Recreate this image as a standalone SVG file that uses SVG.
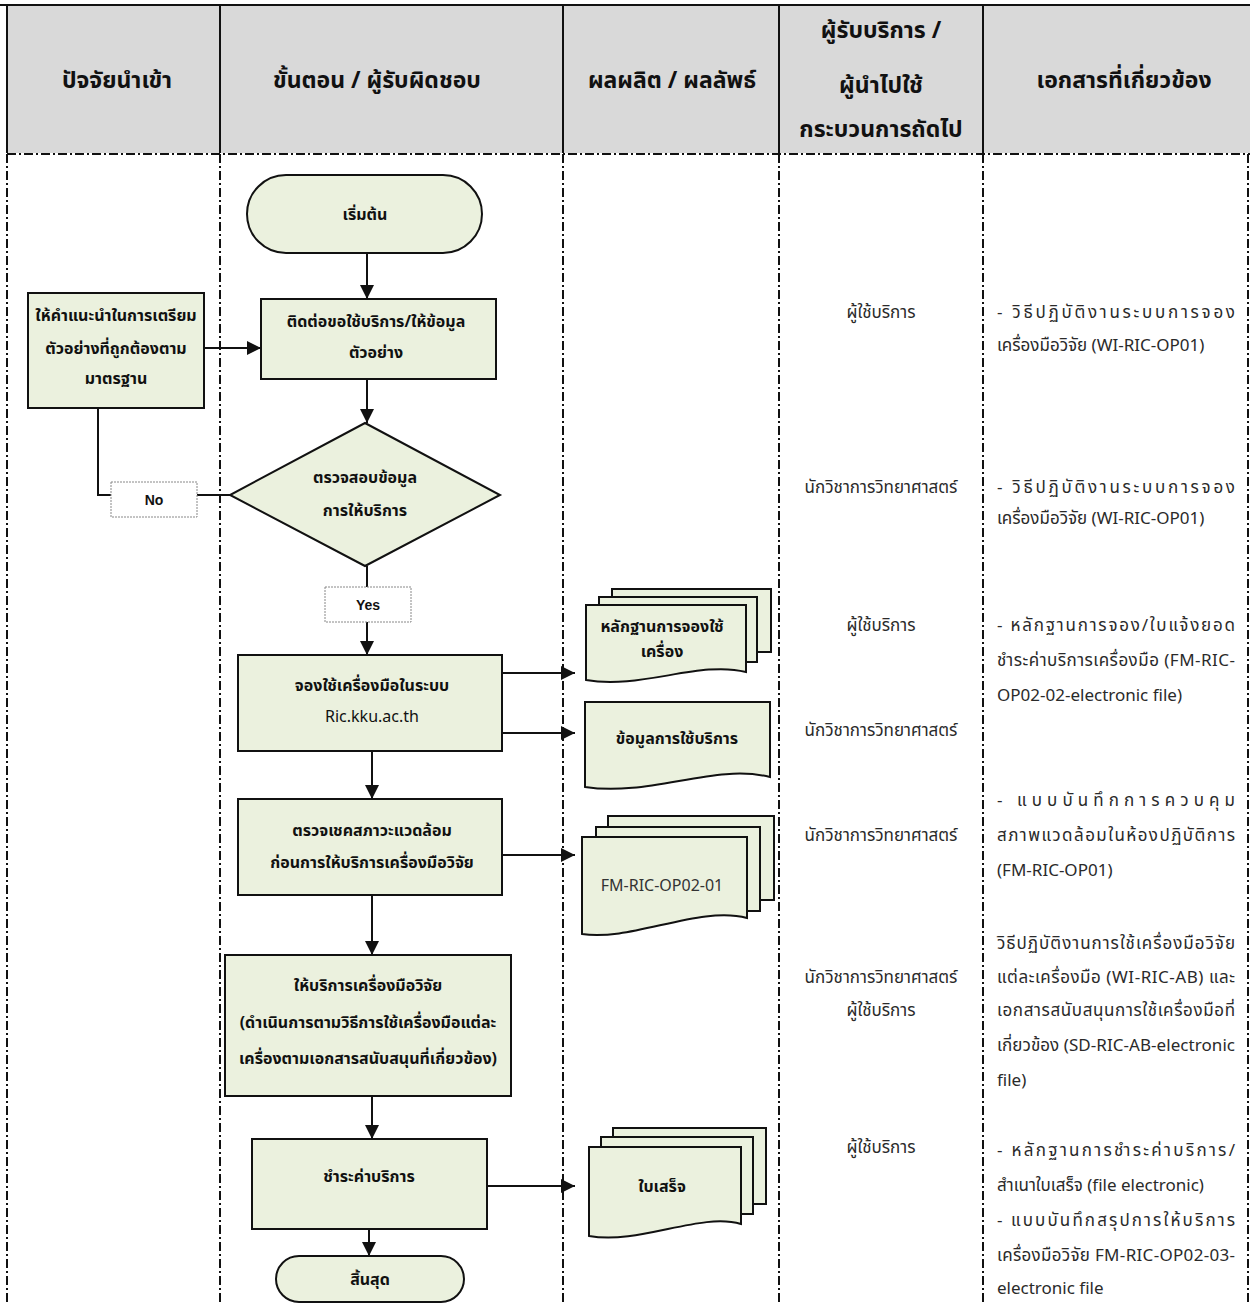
<svg xmlns="http://www.w3.org/2000/svg" width="1250" height="1304" viewBox="0 0 1250 1304">
<defs>
<style>
text{font-family:"Noto Sans Thai",Tahoma,"Leelawadee UI","Noto Sans","DejaVu Sans",sans-serif;fill:#111}
.hd{font-size:23px;font-weight:bold;text-anchor:middle}
.nt{font-size:16px;font-weight:bold;text-anchor:middle}
.nr{font-size:16px;text-anchor:middle}
.c4{font-size:17px;text-anchor:middle;fill:#2a2a2a}
.c5{font-size:17px;fill:#2a2a2a}
.lab{font-family:"Liberation Sans",Arial,sans-serif;font-size:14px;font-weight:bold;text-anchor:middle}
.box{fill:#ebf1de;stroke:#111;stroke-width:2}
.grid{stroke:#111;stroke-width:2;fill:none}
.dash{stroke:#111;stroke-width:2;fill:none;stroke-dasharray:9 3 2 3}
.con{stroke:#111;stroke-width:2;fill:none}
.lbox{fill:#fff;stroke:#888;stroke-width:1;stroke-dasharray:2 1}
</style>
<marker id="ah" markerUnits="userSpaceOnUse" markerWidth="16" markerHeight="14" refX="14" refY="7" orient="auto">
<path d="M0,0 L14,7 L0,14 z" fill="#111"/>
</marker>
</defs>

<g id="table">
<rect x="7" y="5" width="1243" height="148" fill="#d9d9d9"/>
<line class="grid" x1="0" y1="5" x2="1250" y2="5"/>
<line class="grid" x1="7" y1="5" x2="7" y2="153"/>
<line class="grid" x1="220" y1="5" x2="220" y2="153"/>
<line class="grid" x1="563" y1="5" x2="563" y2="153"/>
<line class="grid" x1="779" y1="5" x2="779" y2="153"/>
<line class="grid" x1="983" y1="5" x2="983" y2="153"/>
<line class="dash" x1="7" y1="154" x2="1250" y2="154"/>
<line class="dash" x1="7" y1="154" x2="7" y2="1304"/>
<line class="dash" x1="220" y1="154" x2="220" y2="1304"/>
<line class="dash" x1="563" y1="154" x2="563" y2="1304"/>
<line class="dash" x1="779" y1="154" x2="779" y2="1304"/>
<line class="dash" x1="983" y1="154" x2="983" y2="1304"/>
<line class="dash" x1="1248" y1="154" x2="1248" y2="1304"/>
<text class="hd" x="117" y="88">ปัจจัยนำเข้า</text>
<text class="hd" x="377" y="88">ขั้นตอน / ผู้รับผิดชอบ</text>
<text class="hd" x="672" y="88">ผลผลิต / ผลลัพธ์</text>
<text class="hd" x="881" y="38">ผู้รับบริการ /</text>
<text class="hd" x="881" y="93">ผู้นำไปใช้</text>
<text class="hd" x="881" y="137">กระบวนการถัดไป</text>
<text class="hd" x="1124" y="88">เอกสารที่เกี่ยวข้อง</text>
</g>

<g id="connectors">
<path class="con" d="M367,253 V299" marker-end="url(#ah)"/>
<path class="con" d="M204,348 H261" marker-end="url(#ah)"/>
<path class="con" d="M367,379 V423" marker-end="url(#ah)"/>
<path class="con" d="M230,495 H98 V408"/>
<path class="con" d="M367,566 V655" marker-end="url(#ah)"/>
<path class="con" d="M502,673 H575" marker-end="url(#ah)"/>
<path class="con" d="M502,733 H575" marker-end="url(#ah)"/>
<path class="con" d="M372,751 V799" marker-end="url(#ah)"/>
<path class="con" d="M502,855 H575" marker-end="url(#ah)"/>
<path class="con" d="M372,895 V955" marker-end="url(#ah)"/>
<path class="con" d="M372,1096 V1139" marker-end="url(#ah)"/>
<path class="con" d="M487,1186 H575" marker-end="url(#ah)"/>
<path class="con" d="M369,1229 V1256" marker-end="url(#ah)"/>
<g id="label-no"><rect class="lbox" x="111" y="482" width="86" height="35"/><text class="lab" x="154" y="505">No</text></g>
<g id="label-yes"><rect class="lbox" x="325" y="587" width="86" height="35"/><text class="lab" x="368" y="610">Yes</text></g>
</g>

<g id="start">
<rect class="box" x="247" y="175" width="235" height="78" rx="39"/>
<text class="nt" x="365" y="220">เริ่มต้น</text>
</g>

<g id="advice">
<rect class="box" x="28" y="293" width="176" height="115"/>
<text class="nt" x="116" y="321">ให้คำแนะนำในการเตรียม</text>
<text class="nt" x="116" y="354">ตัวอย่างที่ถูกต้องตาม</text>
<text class="nt" x="116" y="384">มาตรฐาน</text>
</g>

<g id="contact">
<rect class="box" x="261" y="299" width="235" height="80"/>
<text class="nt" x="376" y="327">ติดต่อขอใช้บริการ/ให้ข้อมูล</text>
<text class="nt" x="376" y="358">ตัวอย่าง</text>
</g>

<g id="check-info">
<polygon class="box" points="365,423 500,495 365,566 230,495"/>
<text class="nt" x="365" y="483">ตรวจสอบข้อมูล</text>
<text class="nt" x="365" y="516">การให้บริการ</text>
</g>

<g id="book">
<rect class="box" x="238" y="655" width="264" height="96"/>
<text class="nt" x="372" y="691">จองใช้เครื่องมือในระบบ</text>
<text class="nr" x="372" y="722">Ric.kku.ac.th</text>
</g>

<g id="doc-booking-evidence">
<path class="box" d="M612,589 H771 V652 H612 Z"/>
<path class="box" d="M599,597 H757 V662 H599 Z"/>
<path class="box" d="M586,605 H746 V672 C700,660 640,690 586,680 Z"/>
<text class="nt" x="662" y="632">หลักฐานการจองใช้</text>
<text class="nt" x="662" y="657">เครื่อง</text>
</g>

<g id="doc-usage-info">
<path class="box" d="M585,702 H770 V777 C715,763 650,797 585,787 Z"/>
<text class="nt" x="677" y="744">ข้อมูลการใช้บริการ</text>
</g>

<g id="check-env">
<rect class="box" x="238" y="799" width="264" height="96"/>
<text class="nt" x="372" y="836">ตรวจเชคสภาวะแวดล้อม</text>
<text class="nt" x="372" y="868">ก่อนการให้บริการเครื่องมือวิจัย</text>
</g>

<g id="doc-fm-op02-01">
<path class="box" d="M608,816 H774 V900 H608 Z"/>
<path class="box" d="M596,827 H760 V911 H596 Z"/>
<path class="box" d="M582,837 H747 V918 C700,905 630,942 582,934 Z"/>
<text class="nr" x="662" y="891" style="fill:#333">FM-RIC-OP02-01</text>
</g>

<g id="service">
<rect class="box" x="225" y="955" width="286" height="141"/>
<text class="nt" x="368" y="991">ให้บริการเครื่องมือวิจัย</text>
<text class="nt" x="368" y="1028">(ดำเนินการตามวิธีการใช้เครื่องมือแต่ละ</text>
<text class="nt" x="368" y="1064">เครื่องตามเอกสารสนับสนุนที่เกี่ยวข้อง)</text>
</g>

<g id="pay">
<rect class="box" x="252" y="1139" width="235" height="90"/>
<text class="nt" x="369" y="1182">ชำระค่าบริการ</text>
</g>

<g id="doc-receipt">
<path class="box" d="M613,1128 H766 V1204 H613 Z"/>
<path class="box" d="M601,1137 H753 V1214 H601 Z"/>
<path class="box" d="M589,1147 H741 V1224 C700,1212 640,1245 589,1236 Z"/>
<text class="nt" x="662" y="1192">ใบเสร็จ</text>
</g>

<g id="end">
<rect class="box" x="276" y="1256" width="188" height="46" rx="23"/>
<text class="nt" x="370" y="1285">สิ้นสุด</text>
</g>

<g id="col4">
<text class="c4" x="881" y="318">ผู้ใช้บริการ</text>
<text class="c4" x="881" y="493">นักวิชาการวิทยาศาสตร์</text>
<text class="c4" x="881" y="631">ผู้ใช้บริการ</text>
<text class="c4" x="881" y="736">นักวิชาการวิทยาศาสตร์</text>
<text class="c4" x="881" y="841">นักวิชาการวิทยาศาสตร์</text>
<text class="c4" x="881" y="983">นักวิชาการวิทยาศาสตร์</text>
<text class="c4" x="881" y="1016">ผู้ใช้บริการ</text>
<text class="c4" x="881" y="1153">ผู้ใช้บริการ</text>
</g>

<g id="col5">
<text class="c5" x="997" y="318" textLength="238" lengthAdjust="spacing">- วิธีปฏิบัติงานระบบการจอง</text>
<text class="c5" x="997" y="351">เครื่องมือวิจัย (WI-RIC-OP01)</text>
<text class="c5" x="997" y="493" textLength="238" lengthAdjust="spacing">-  วิธีปฏิบัติงานระบบการจอง</text>
<text class="c5" x="997" y="524">เครื่องมือวิจัย (WI-RIC-OP01)</text>
<text class="c5" x="997" y="631" textLength="238" lengthAdjust="spacing">- หลักฐานการจอง/ใบแจ้งยอด</text>
<text class="c5" x="997" y="666" textLength="238" lengthAdjust="spacing">ชำระค่าบริการเครื่องมือ (FM-RIC-</text>
<text class="c5" x="997" y="701">OP02-02-electronic file)</text>
<text class="c5" x="997" y="806" textLength="238" lengthAdjust="spacing">- แบบบันทึกการควบคุม</text>
<text class="c5" x="997" y="841" textLength="238" lengthAdjust="spacing">สภาพแวดล้อมในห้องปฏิบัติการ</text>
<text class="c5" x="997" y="876">(FM-RIC-OP01)</text>
<text class="c5" x="997" y="949" textLength="238" lengthAdjust="spacing">วิธีปฏิบัติงานการใช้เครื่องมือวิจัย</text>
<text class="c5" x="997" y="983" textLength="238" lengthAdjust="spacing">แต่ละเครื่องมือ (WI-RIC-AB)  และ</text>
<text class="c5" x="997" y="1016" textLength="238" lengthAdjust="spacing">เอกสารสนับสนุนการใช้เครื่องมือที่</text>
<text class="c5" x="997" y="1051" textLength="238" lengthAdjust="spacing">เกี่ยวข้อง (SD-RIC-AB-electronic</text>
<text class="c5" x="997" y="1086">file)</text>
<text class="c5" x="997" y="1156" textLength="238" lengthAdjust="spacing">- หลักฐานการชำระค่าบริการ/</text>
<text class="c5" x="997" y="1191">สำเนาใบเสร็จ (file electronic)</text>
<text class="c5" x="997" y="1226" textLength="238" lengthAdjust="spacing">- แบบบันทึกสรุปการให้บริการ</text>
<text class="c5" x="997" y="1261" textLength="238" lengthAdjust="spacing">เครื่องมือวิจัย FM-RIC-OP02-03-</text>
<text class="c5" x="997" y="1294">electronic file</text>
</g>
</svg>
